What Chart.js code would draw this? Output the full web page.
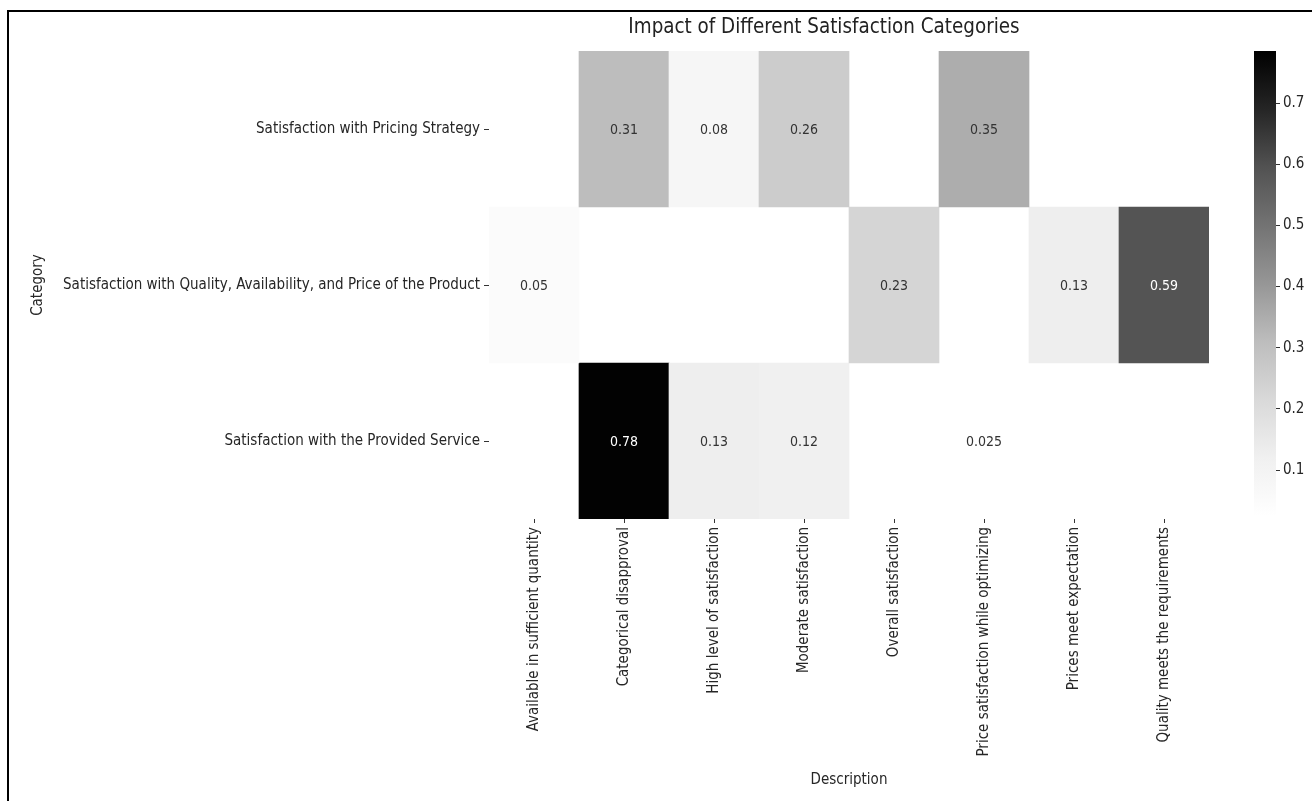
<!DOCTYPE html>
<html>
<head>
<meta charset="utf-8">
<script src="https://cdn.jsdelivr.net/npm/chart.js@4.4.1/dist/chart.umd.min.js"></script>
<style>
  html, body { margin: 0; padding: 0; background: #fff; overflow: hidden; }
  #frame { position: absolute; left: 7px; top: 10px; width: 1320px; height: 800px;
           border-top: 2px solid #000; border-left: 2px solid #000; }
  canvas { position: absolute; top: 0; }
  #head { left: 336px; }
  #main { left: 0; }
  #bar { left: 1230px; }
</style>
</head>
<body>
<div id="frame"></div>
<canvas id="head" width="976" height="50"></canvas>
<canvas id="main" width="1240" height="801"></canvas>
<canvas id="bar" width="82" height="801"></canvas>
<script>
// rows of the heatmap (top to bottom)
const categories = [
  "Satisfaction with Pricing Strategy",
  "Satisfaction with Quality, Availability, and Price of the Product",
  "Satisfaction with the Provided Service"
];
// columns
const descriptions = [
  "Available in sufficient quantity",
  "Categorical disapproval",
  "High level of satisfaction",
  "Moderate satisfaction",
  "Overall satisfaction",
  "Price satisfaction while optimizing",
  "Prices meet expectation",
  "Quality meets the requirements"
];
const pricingValues = [null, 0.31, 0.08, 0.26, null, 0.35, null, null];
const qualityValues = [0.05, null, null, null, 0.23, null, 0.13, 0.59];
const serviceValues = [null, 0.78, 0.13, 0.12, null, 0.025, null, null];
const colorTicks = [0.1, 0.2, 0.3, 0.4, 0.5, 0.6, 0.7];
const vMin = 0.025;
const vMax = 0.785;

const rows = [pricingValues, qualityValues, serviceValues];

const FAMILY = "'DejaVu Sans Condensed', 'DejaVu Sans', sans-serif";
Chart.defaults.font.family = FAMILY;
Chart.defaults.font.size = 15;
Chart.defaults.color = '#262626';

// matplotlib "Greys"
const greys = ['#ffffff', '#f0f0f0', '#d9d9d9', '#bdbdbd', '#969696', '#737373', '#525252', '#252525', '#000000'];
function hexRgb(h) {
  return [parseInt(h.slice(1, 3), 16), parseInt(h.slice(3, 5), 16), parseInt(h.slice(5, 7), 16)];
}
function shadeRgb(v) {
  let t = (v - vMin) / (vMax - vMin);
  t = Math.max(0, Math.min(1, t));
  const p = t * (greys.length - 1);
  const i = Math.min(Math.floor(p), greys.length - 2);
  const f = p - i;
  const a = hexRgb(greys[i]), b = hexRgb(greys[i + 1]);
  return a.map((c, k) => Math.round(c + (b[k] - c) * f));
}
function shade(v) {
  const c = shadeRgb(v);
  return 'rgb(' + c.join(',') + ')';
}
function fmt(v) {
  return String(Number(v.toPrecision(2)));
}

// value labels inside each cell
const cellText = {
  id: 'cellText',
  afterDatasetsDraw(chart) {
    const ctx = chart.ctx;
    ctx.save();
    ctx.font = "14px " + FAMILY;
    ctx.textAlign = 'center';
    ctx.textBaseline = 'middle';
    chart.data.datasets.forEach((ds, r) => {
      chart.getDatasetMeta(r).data.forEach((bar, j) => {
        const v = ds.values[j];
        if (v == null) return;
        const c = bar.getCenterPoint();
        const rgb = shadeRgb(v);
        const lum = (0.299 * rgb[0] + 0.587 * rgb[1] + 0.114 * rgb[2]) / 255;
        ctx.fillStyle = lum < 0.45 ? '#ffffff' : '#333333';
        ctx.fillText(fmt(v), c.x, c.y + 1);
      });
    });
    ctx.restore();
  }
};

new Chart(document.getElementById('head'), {
  type: 'bar',
  data: { labels: [], datasets: [] },
  options: {
    responsive: false,
    animation: false,
    plugins: {
      legend: { display: false },
      tooltip: { enabled: false },
      title: {
        display: true,
        text: 'Impact of Different Satisfaction Categories',
        font: { size: 20.4, weight: 'normal' },
        color: '#222',
        padding: { top: 15, bottom: 0 }
      }
    },
    scales: { x: { display: false }, y: { display: false } }
  }
});

new Chart(document.getElementById('main'), {
  type: 'bar',
  data: {
    labels: descriptions,
    datasets: rows.map((vals, r) => ({
      label: categories[r],
      values: vals,
      data: vals.map(v => v == null ? null : [r, r + 1]),
      backgroundColor: vals.map(v => v == null ? 'rgba(0,0,0,0)' : shade(v)),
      borderWidth: 0,
      barPercentage: 1,
      categoryPercentage: 1,
      grouped: false
    }))
  },
  options: {
    responsive: false,
    animation: false,
    layout: { padding: { left: 25, right: 31, top: 51, bottom: 10 } },
    plugins: { legend: { display: false }, tooltip: { enabled: false } },
    scales: {
      x: {
        type: 'category',
        offset: true,
        afterFit: s => { s.height = 272; },
        ticks: { autoSkip: false, minRotation: 90, maxRotation: 90, padding: 4 },
        grid: { offset: false, drawOnChartArea: false, tickLength: 4, color: '#333' },
        border: { display: false },
        title: { display: true, text: 'Description', padding: { top: 0, bottom: 2 } }
      },
      y: {
        type: 'linear',
        min: 0,
        max: 3,
        reverse: true,
        afterBuildTicks: s => { s.ticks = categories.map((_, i) => ({ value: i + 0.5 })); },
        afterFit: s => { s.width = 464; },
        ticks: { callback: v => categories[Math.floor(v)], padding: 4 },
        grid: { drawOnChartArea: false, tickLength: 5, color: '#333' },
        border: { display: false },
        title: { display: true, text: 'Category', padding: { top: 4, bottom: 0 } }
      }
    }
  },
  plugins: [cellText]
});

// colour bar
function barGradient(chart) {
  const area = chart.chartArea;
  if (!area) return null;
  const g = chart.ctx.createLinearGradient(0, area.bottom, 0, area.top);
  greys.forEach((c, i) => g.addColorStop(i / (greys.length - 1), c));
  return g;
}

new Chart(document.getElementById('bar'), {
  type: 'bar',
  data: {
    labels: [''],
    datasets: [{
      data: [[vMin, vMax]],
      backgroundColor: ctx => barGradient(ctx.chart),
      borderWidth: 0,
      barPercentage: 1,
      categoryPercentage: 1
    }]
  },
  options: {
    responsive: false,
    animation: false,
    layout: { padding: { left: 24, right: 0, top: 51, bottom: 285 } },
    plugins: { legend: { display: false }, tooltip: { enabled: false } },
    scales: {
      x: { display: false },
      y: {
        position: 'right',
        min: vMin,
        max: vMax,
        afterBuildTicks: s => { s.ticks = colorTicks.map(v => ({ value: v })); },
        afterFit: s => { s.width = 36; },
        ticks: { callback: v => v.toFixed(1), padding: 3 },
        grid: { drawOnChartArea: false, tickLength: 4, color: '#333' },
        border: { display: false }
      }
    }
  }
});
</script>
</body>
</html>
